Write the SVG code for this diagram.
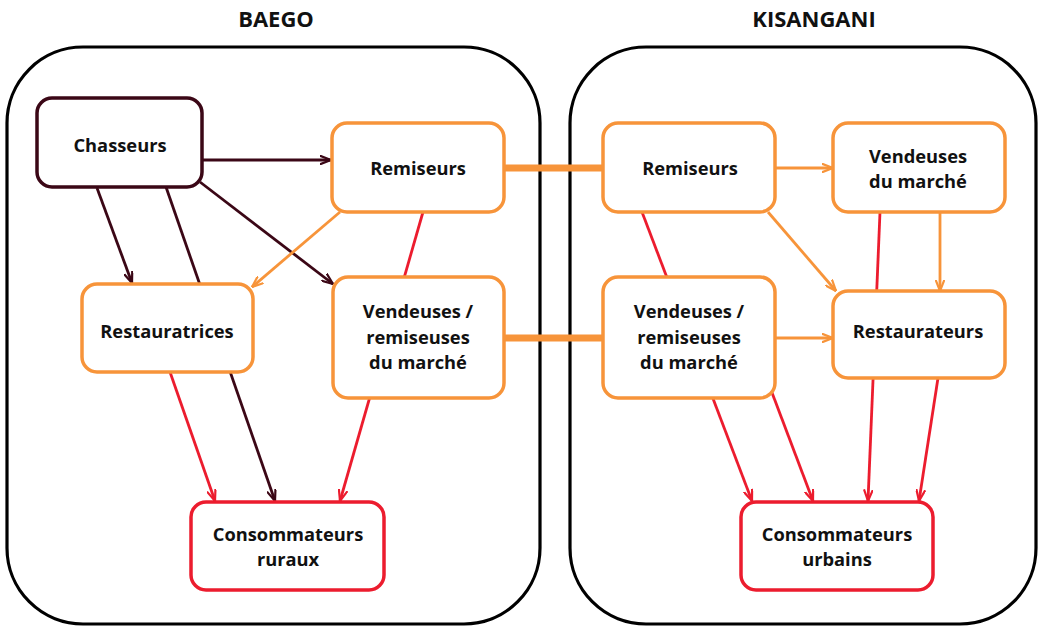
<svg xmlns="http://www.w3.org/2000/svg" width="1039" height="627" viewBox="0 0 1039 627">
<style>
.bg{fill:#fff}
.zone{fill:#fff;stroke:#000;stroke-width:3.2}
.box{fill:#fff;stroke-width:3.5}
.dk{stroke:#3b0716}
.or{stroke:#f7943a}
.rd{stroke:#ec1c2e}
.ln{fill:none;stroke-width:2.8}
.bridge{fill:none;stroke:#f7943a;stroke-width:7}
text{font-family:"Open Sans","Liberation Sans",sans-serif;font-weight:bold;font-size:18.3px;fill:#111;text-anchor:middle}
.title{font-size:22px}
</style>
<defs>
<marker id="aD" viewBox="0 0 12 10" refX="11.5" refY="5" markerWidth="12" markerHeight="10" markerUnits="userSpaceOnUse" orient="auto"><path d="M0,0.5 L11.5,5 L0,9.5" fill="none" stroke="#3b0716" stroke-width="2.2"/></marker>
<marker id="aO" viewBox="0 0 12 10" refX="11.5" refY="5" markerWidth="12" markerHeight="10" markerUnits="userSpaceOnUse" orient="auto"><path d="M0,0.5 L11.5,5 L0,9.5" fill="none" stroke="#f7943a" stroke-width="2.2"/></marker>
<marker id="aR" viewBox="0 0 12 10" refX="11.5" refY="5" markerWidth="12" markerHeight="10" markerUnits="userSpaceOnUse" orient="auto"><path d="M0,0.5 L11.5,5 L0,9.5" fill="none" stroke="#ec1c2e" stroke-width="2.2"/></marker>
</defs>
<rect class="bg" x="0" y="0" width="1039" height="627"/>
<g id="zone-baego">
<rect class="zone" x="7" y="47" width="533" height="577" rx="76" ry="76"/>
<text class="title" x="276" y="27">BAEGO</text>
</g>
<g id="zone-kisangani">
<rect class="zone" x="570" y="47" width="466" height="577" rx="76" ry="76"/>
<text class="title" x="814" y="27">KISANGANI</text>
</g>
<g id="connectors">
<line class="bridge" x1="504" y1="168" x2="603" y2="168"/>
<line class="bridge" x1="504" y1="338" x2="603" y2="338"/>
<line class="ln dk" x1="203" y1="160" x2="331" y2="160" marker-end="url(#aD)"/>
<line class="ln dk" x1="97" y1="188" x2="132" y2="283" marker-end="url(#aD)"/>
<line class="ln dk" x1="166" y1="187" x2="275" y2="501" marker-end="url(#aD)"/>
<line class="ln dk" x1="200" y1="182" x2="333" y2="284" marker-end="url(#aD)"/>
<line class="ln or" x1="340" y1="212" x2="252" y2="287" marker-end="url(#aO)"/>
<line class="ln rd" x1="423" y1="212" x2="340" y2="501" marker-end="url(#aR)"/>
<line class="ln rd" x1="170" y1="372" x2="215" y2="501" marker-end="url(#aR)"/>
<line class="ln or" x1="775" y1="168" x2="833" y2="168" marker-end="url(#aO)"/>
<line class="ln or" x1="768" y1="212" x2="836" y2="291" marker-end="url(#aO)"/>
<line class="ln or" x1="940" y1="212" x2="940" y2="291" marker-end="url(#aO)"/>
<line class="ln rd" x1="880" y1="212" x2="868" y2="501" marker-end="url(#aR)"/>
<line class="ln rd" x1="642" y1="212" x2="752" y2="501" marker-end="url(#aR)"/>
<line class="ln or" x1="775" y1="338" x2="833" y2="338" marker-end="url(#aO)"/>
<line class="ln rd" x1="771" y1="390" x2="813" y2="501" marker-end="url(#aR)"/>
<line class="ln rd" x1="938" y1="378" x2="919" y2="501" marker-end="url(#aR)"/>
</g>
<g id="chasseurs">
<rect class="box dk" x="37" y="98" width="165" height="89" rx="15"/>
<text x="120" y="152">Chasseurs</text>
</g>
<g id="remiseurs-baego">
<rect class="box or" x="332" y="123" width="172" height="89" rx="15"/>
<text x="418" y="175">Remiseurs</text>
</g>
<g id="restauratrices">
<rect class="box or" x="82" y="284" width="171" height="88" rx="15"/>
<text x="167" y="338">Restauratrices</text>
</g>
<g id="vendeuses-baego">
<rect class="box or" x="333" y="277" width="171" height="121" rx="15"/>
<text x="418" y="318">Vendeuses /</text>
<text x="418" y="344">remiseuses</text>
<text x="418" y="369">du marché</text>
</g>
<g id="consommateurs-ruraux">
<rect class="box rd" x="191" y="502" width="193" height="88" rx="15"/>
<text x="288" y="541">Consommateurs</text>
<text x="288" y="566">ruraux</text>
</g>
<g id="remiseurs-kisangani">
<rect class="box or" x="603" y="123" width="172" height="89" rx="15"/>
<text x="690" y="175">Remiseurs</text>
</g>
<g id="vendeuses-du-marche">
<rect class="box or" x="833" y="123" width="172" height="89" rx="15"/>
<text x="918" y="163">Vendeuses</text>
<text x="918" y="188">du marché</text>
</g>
<g id="vendeuses-kisangani">
<rect class="box or" x="603" y="277" width="172" height="121" rx="15"/>
<text x="689" y="318">Vendeuses /</text>
<text x="689" y="344">remiseuses</text>
<text x="689" y="369">du marché</text>
</g>
<g id="restaurateurs">
<rect class="box or" x="833" y="291" width="172" height="87" rx="15"/>
<text x="918" y="338">Restaurateurs</text>
</g>
<g id="consommateurs-urbains">
<rect class="box rd" x="741" y="502" width="192" height="88" rx="15"/>
<text x="837" y="541">Consommateurs</text>
<text x="837" y="566">urbains</text>
</g>
</svg>
